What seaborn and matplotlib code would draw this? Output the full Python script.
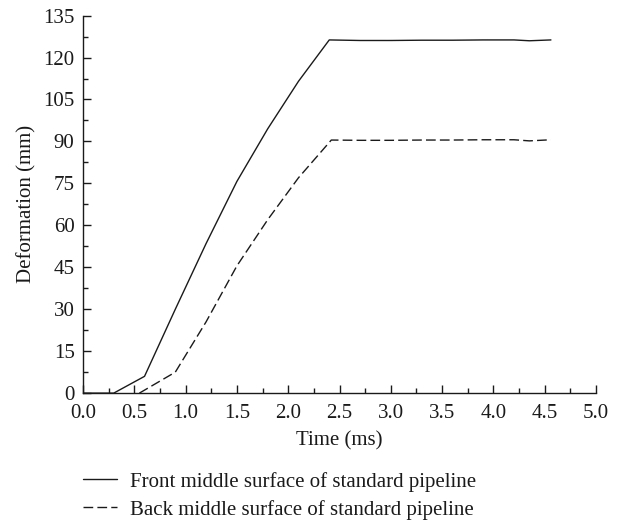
import matplotlib
matplotlib.use("Agg")
import matplotlib.pyplot as plt
import seaborn as sns
import pandas as pd
from matplotlib.ticker import MultipleLocator, FormatStrFormatter

sns.set_theme(style="ticks")
plt.rcParams["font.family"] = ["Liberation Serif", "DejaVu Serif"]

# Deformation histories (time in ms, deformation in mm)
front_time = [0.0, 0.3, 0.6, 0.9, 1.2, 1.5, 1.8, 2.1, 2.4, 2.7, 3.0, 3.3, 3.6, 3.9, 4.2, 4.35, 4.56]
front_def = [0.0, 0.0, 6.0, 30.0, 53.5, 75.7, 94.5, 111.5, 126.3, 126.1, 126.1, 126.2, 126.2, 126.3, 126.3, 126.0, 126.3]
back_time = [0.55, 0.9, 1.2, 1.5, 1.8, 2.1, 2.42, 2.7, 3.0, 3.3, 3.6, 3.9, 4.2, 4.35, 4.56]
back_def = [0.0, 7.5, 25.5, 45.5, 62.0, 77.0, 90.5, 90.4, 90.4, 90.5, 90.5, 90.6, 90.6, 90.2, 90.6]

front_label = "Front middle surface of standard pipeline"
back_label = "Back middle surface of standard pipeline"

df = pd.concat([
    pd.DataFrame({"Time (ms)": front_time, "Deformation (mm)": front_def, "series": front_label}),
    pd.DataFrame({"Time (ms)": back_time, "Deformation (mm)": back_def, "series": back_label}),
])

ink = "#1a1a1a"
fs = 15

fig = plt.figure(figsize=(6.19, 5.2), dpi=100)
ax = fig.add_axes([0.134, 0.244, 0.829, 0.726])

sns.lineplot(
    data=df, x="Time (ms)", y="Deformation (mm)", style="series",
    dashes={front_label: "", back_label: (7, 3)},
    color=ink, linewidth=1.0, sort=False, ax=ax, legend=True,
)

ax.set_xlim(0, 5.0)
ax.set_ylim(0, 135)
ax.xaxis.set_major_locator(MultipleLocator(0.5))
ax.xaxis.set_minor_locator(MultipleLocator(0.25))
ax.yaxis.set_major_locator(MultipleLocator(15))
ax.yaxis.set_minor_locator(MultipleLocator(7.5))
ax.xaxis.set_major_formatter(FormatStrFormatter("%.1f"))

for s in ["top", "right"]:
    ax.spines[s].set_visible(False)
for s in ["left", "bottom"]:
    ax.spines[s].set_linewidth(1.0)
    ax.spines[s].set_color(ink)

ax.tick_params(which="major", direction="in", length=6, width=1.0, labelsize=fs, colors=ink)
ax.tick_params(which="minor", direction="in", length=3.5, width=1.0, colors=ink)
ax.tick_params(axis="x", which="major", pad=8)
ax.tick_params(axis="y", which="major", pad=6)
ax.set_xlabel("Time (ms)", fontsize=fs, color=ink, labelpad=6)
ax.set_ylabel("Deformation (mm)", fontsize=fs, color=ink, labelpad=5)

handles, labels = ax.get_legend_handles_labels()
ax.get_legend().remove()
fig.legend(
    handles, labels, loc="upper left", bbox_to_anchor=(0.134, 0.093),
    frameon=False, fontsize=fs, handlelength=1.65, handletextpad=0.6,
    labelspacing=0.4, borderpad=0, borderaxespad=0, labelcolor=ink,
)

fig.savefig("out.png", dpi=100)
